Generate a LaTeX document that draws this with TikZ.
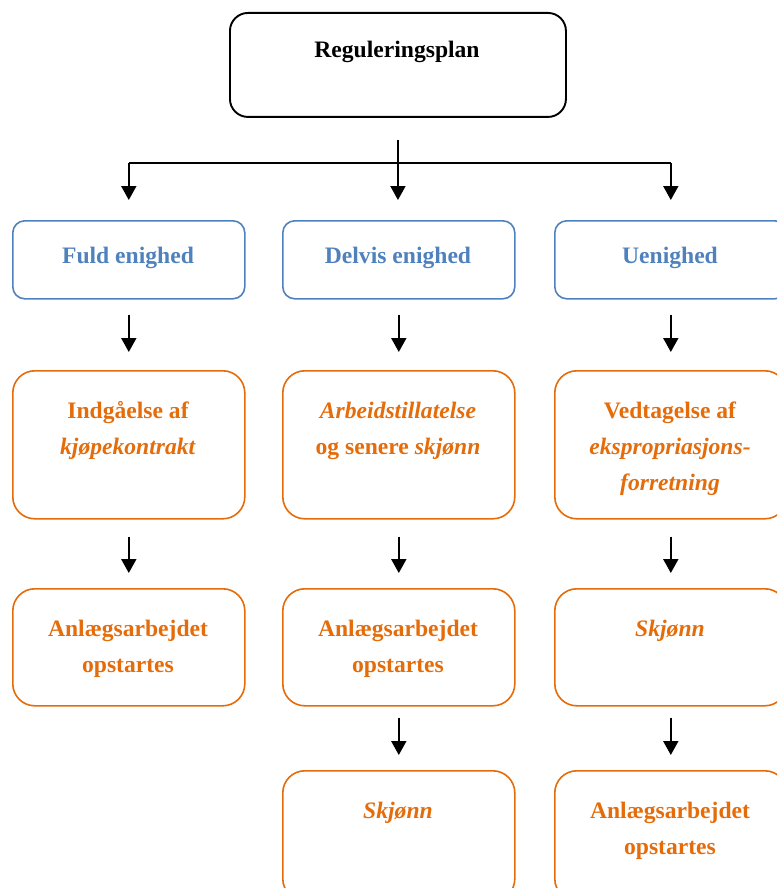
\documentclass[tikz,border=0pt]{standalone}
\usepackage{fontspec}
\setmainfont{Liberation Serif}
\usetikzlibrary{arrows.meta}
\definecolor{boxblue}{HTML}{4F81BD}
\definecolor{boxorange}{HTML}{E46C0A}

\begin{document}
\begin{tikzpicture}[x=1pt,y=-1pt,
  box/.style={draw, inner sep=0pt, anchor=north west, minimum width=232pt},
  topbox/.style={box, line width=1.9pt, rounded corners=18pt, minimum width=336pt, minimum height=104pt},
  bluebox/.style={box, draw=boxblue, line width=1.6pt, rounded corners=12pt, minimum height=78pt},
  orangebox/.style={box, draw=boxorange, line width=1.6pt, rounded corners=22pt},
  label/.style={anchor=base, align=center, inner sep=0pt, font=\fontsize{23.6}{36}\selectfont\bfseries},
  bluetext/.style={label, text=boxblue},
  orangetext/.style={label, text=boxorange},
  arr/.style={line width=1.9pt, -{Triangle[length=14pt,width=15pt]}},
  line/.style={line width=1.9pt}]
\useasboundingbox (0,0) rectangle (777,888);
\clip (0,0) rectangle (777,888);

% top box
\node[topbox] (reg) at (229,12) {};
\node[label] (regt) at (397,58) {Reguleringsplan};

% agreement level
\node[bluebox] (fuld) at (12,220) {};
\node[bluebox] (delv) at (282,220) {};
\node[bluebox] (uen) at (554,220) {};
\node[bluetext] at (128,263) {Fuld enighed};
\node[bluetext] at (398,263) {Delvis enighed};
\node[bluetext] at (670,263) {Uenighed};

% first step (text anchored on the baseline of its last line)
\node[orangebox, minimum height=148pt] (kjop) at (12,370) {};
\node[orangebox, minimum height=148pt] (arb) at (282,370) {};
\node[orangebox, minimum height=148pt] (ved) at (554,370) {};
\node[orangetext] at (128,454) {Indgåelse af\\\textit{kjøpekontrakt}};
\node[orangetext] at (398,454) {\textit{Arbeidstillatelse}\\og senere \textit{skjønn}};
\node[orangetext] at (670,490) {Vedtagelse af\\\textit{ekspropriasjons-}\\\textit{forretning}};

% second step
\node[orangebox, minimum height=117pt] (anl1) at (12,588) {};
\node[orangebox, minimum height=117pt] (anl2) at (282,588) {};
\node[orangebox, minimum height=117pt] (skj3) at (554,588) {};
\node[orangetext] at (128,672) {Anlægsarbejdet\\opstartes};
\node[orangetext] at (398,672) {Anlægsarbejdet\\opstartes};
\node[orangetext] at (670,636) {\textit{Skjønn}};

% third step
\node[orangebox, minimum height=130pt] (skj2) at (282,770) {};
\node[orangebox, minimum height=130pt] (anl3) at (554,770) {};
\node[orangetext] at (398,818) {\textit{Skjønn}};
\node[orangetext] at (670,854) {Anlægsarbejdet\\opstartes};

% branching from the plan
\coordinate (split) at (397,163);
\draw[arr, shorten <=22pt, shorten >=20pt] (reg.south) -- (reg.south |- delv.north);
\draw[line] (split -| fuld.north) -- (split -| uen.north);
\draw[arr, shorten >=20pt] (split -| fuld.north) -- (fuld.north);
\draw[arr, shorten >=20pt] (split -| uen.north) -- (uen.north);

% column arrows
\foreach \a/\b in {fuld/kjop, delv/arb, uen/ved}
  \draw[arr, shorten <=15pt, shorten >=18pt] (\a.south) -- (\b.north);
\foreach \a/\b in {kjop/anl1, arb/anl2, ved/skj3}
  \draw[arr, shorten <=17pt, shorten >=15pt] (\a.south) -- (\b.north);
\foreach \a/\b in {anl2/skj2, skj3/anl3}
  \draw[arr, shorten <=11pt, shorten >=15pt] (\a.south) -- (\b.north);
\end{tikzpicture}
\end{document}
